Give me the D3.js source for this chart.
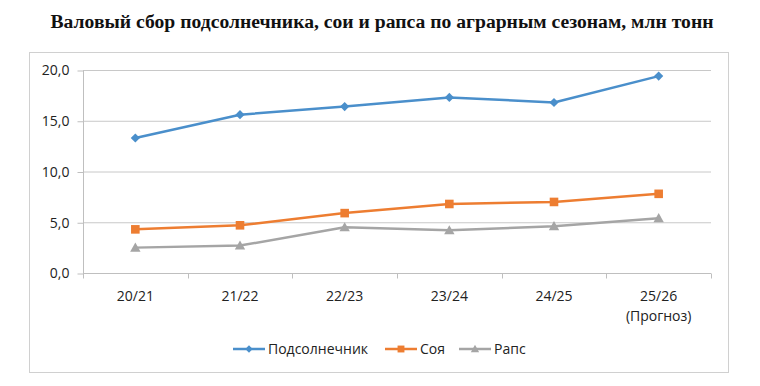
<!DOCTYPE html>
<html><head><meta charset="utf-8">
<script src="https://cdn.jsdelivr.net/npm/d3@7"></script>
<style>body{margin:0;background:#fff}svg{display:block}</style>
</head><body>
<svg id="c" width="760" height="386"></svg>
<script>
const categories = ["20/21","21/22","22/23","23/24","24/25","25/26"];
const subLabels = ["","","","","","(Прогноз)"];
const sunflower = [13.3, 15.6, 16.4, 17.3, 16.8, 19.4];
const soy = [4.3, 4.7, 5.9, 6.8, 7.0, 7.8];
const rapeseed = [2.5, 2.7, 4.5, 4.2, 4.6, 5.4];
const yTicks = [0, 5, 10, 15, 20];
const seriesNames = ["Подсолнечник","Соя","Рапс"];
const colors = ["#4a8fcb","#ed7d31","#a5a5a5"];
const shapes = ["diamond","square","triangle"];

const svg = d3.select("#c");
const title = "Валовый сбор подсолнечника, сои и рапса по аграрным сезонам, млн тонн";

svg.append("text").attr("x", 382).attr("y", 28).attr("text-anchor","middle")
  .attr("font-family","Liberation Serif").attr("font-weight","bold").attr("font-size",18.5)
  .attr("textLength", 663).attr("lengthAdjust","spacingAndGlyphs")
  .attr("fill","#111").text(title);

svg.append("rect").attr("x",29.5).attr("y",52.5).attr("width",699).attr("height",320)
  .attr("fill","none").attr("stroke","#d0d0d0");

const m = {l:83, r:711, t:70, b:273};
const x = d3.scaleBand().domain(categories).range([m.l, m.r]);
const y = d3.scaleLinear().domain([0,20]).range([m.b, m.t]);
const font = "'Open Sans', sans-serif";
const fs = 14;

// gridlines
svg.append("g").selectAll("line").data(yTicks.filter(d=>d>0)).join("line")
  .attr("x1", m.l).attr("x2", m.r).attr("y1", d=>y(d)+0.5).attr("y2", d=>y(d)+0.5)
  .attr("stroke","#c8c8c8").attr("stroke-width",1);

const yAxis = d3.axisLeft(y).tickValues(yTicks).tickSize(6).tickPadding(8)
  .tickFormat(d => d3.format(".1f")(d).replace(".", ","));
const gy = svg.append("g").attr("transform",`translate(${m.l+0.5},0.5)`).call(yAxis);
gy.select(".domain").attr("stroke","#bfbfbf").attr("d", `M0,${m.t}V${m.b}`);
gy.selectAll(".tick line").attr("stroke","#bfbfbf");
gy.selectAll(".tick text").attr("font-family",font).attr("font-size",fs).attr("fill","#222");

// x axis
const gx = svg.append("g").attr("transform",`translate(0,${m.b+0.5})`);
gx.append("line").attr("x1",m.l).attr("x2",m.r).attr("stroke","#bfbfbf");
const bounds = categories.map(c=>x(c)).concat([m.r]);
gx.selectAll("line.t").data(bounds).join("line").attr("class","t")
  .attr("x1",d=>Math.round(d)+0.5).attr("x2",d=>Math.round(d)+0.5).attr("y1",0).attr("y2",5)
  .attr("stroke","#bfbfbf");
gx.selectAll("text.c").data(categories).join("text").attr("class","c")
  .attr("x", d=>x(d)+x.bandwidth()/2).attr("y", 27).attr("text-anchor","middle")
  .attr("font-family",font).attr("font-size",fs).attr("fill","#222").text(d=>d);
gx.selectAll("text.s").data(categories).join("text").attr("class","s")
  .attr("x", d=>x(d)+x.bandwidth()/2).attr("y", 47).attr("text-anchor","middle")
  .attr("font-family",font).attr("font-size",fs).attr("fill","#222").text((d,i)=>subLabels[i]);

const data = [sunflower, soy, rapeseed];
const line = d3.line().x((d,i)=>x(categories[i])+x.bandwidth()/2).y(d=>y(d));
function marker(shape, s) {
  if (shape === "diamond") return `M0,${-4.6*s}L${4.6*s},0L0,${4.6*s}L${-4.6*s},0Z`;
  if (shape === "square") return `M${-4.3*s},${-4.3*s}h${8.6*s}v${8.6*s}h${-8.6*s}Z`;
  return `M0,${-5.2*s}L${5.2*s},${4*s}L${-5.2*s},${4*s}Z`;
}

data.forEach((vals, k) => {
  svg.append("path").datum(vals).attr("d", line).attr("fill","none")
    .attr("stroke", colors[k]).attr("stroke-width", 2.5).attr("stroke-linejoin","round");
  svg.append("g").selectAll("path").data(vals).join("path")
    .attr("transform",(d,i)=>`translate(${x(categories[i])+x.bandwidth()/2},${y(d)})`)
    .attr("d", marker(shapes[k], 1))
    .attr("fill", colors[k]);
});

// legend
const legX = [233, 385, 459];
const lg = svg.append("g").attr("transform","translate(0,349)");
seriesNames.forEach((n,k)=>{
  const g = lg.append("g").attr("transform",`translate(${legX[k]},0)`);
  g.append("line").attr("x1",0).attr("x2",32).attr("stroke",colors[k]).attr("stroke-width",2.5);
  g.append("path").attr("transform","translate(16,0)")
    .attr("d", marker(shapes[k], 0.8)).attr("fill",colors[k]);
  g.append("text").attr("x",35).attr("y",5).attr("font-family",font).attr("font-size",fs)
    .attr("fill","#222").text(n);
});
</script>
</body></html>
